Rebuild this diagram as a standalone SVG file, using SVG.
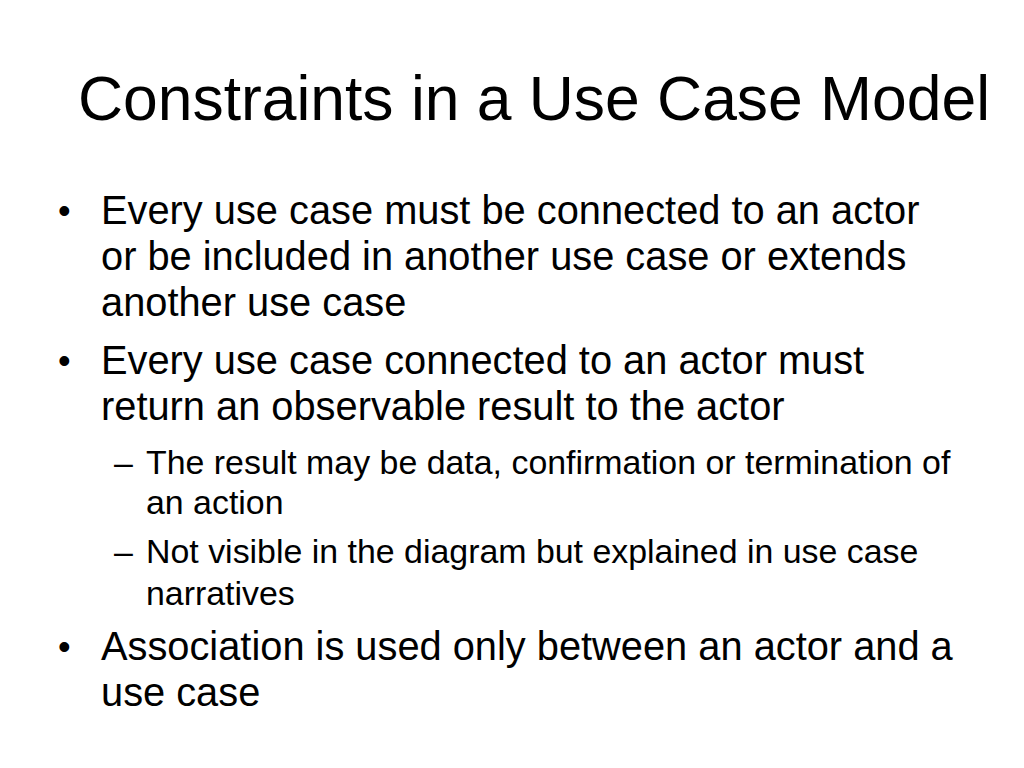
<svg xmlns="http://www.w3.org/2000/svg" width="1024" height="768" viewBox="0 0 1024 768">
<style>
text{font-family:"Liberation Sans",Arial,sans-serif;fill:#000}
.t{font-size:62.4px}
.b{font-size:39.8px}
.s{font-size:33.9px}
.d{font-size:36px}
</style>
<rect width="1024" height="768" fill="#fff"/>
<g id="title"><text class="t" x="78" y="120">Constraints in a Use Case Model</text></g>
<g id="body">
<text class="d" x="58" y="223">•</text>
<text class="b" x="101" y="224">Every use case must be connected to an actor</text>
<text class="b" x="101" y="270">or be included in another use case or extends</text>
<text class="b" x="101" y="316">another use case</text>
<text class="d" x="58" y="373">•</text>
<text class="b" x="101" y="374">Every use case connected to an actor must</text>
<text class="b" x="101" y="420">return an observable result to the actor</text>
<text class="s" x="114" y="474">–</text>
<text class="s" x="146" y="474">The result may be data, confirmation or termination of</text>
<text class="s" x="146" y="514">an action</text>
<text class="s" x="114" y="563">–</text>
<text class="s" x="146" y="563">Not visible in the diagram but explained in use case</text>
<text class="s" x="146" y="605">narratives</text>
<text class="d" x="58" y="659">•</text>
<text class="b" x="101" y="660">Association is used only between an actor and a</text>
<text class="b" x="101" y="706">use case</text>
</g>
</svg>
